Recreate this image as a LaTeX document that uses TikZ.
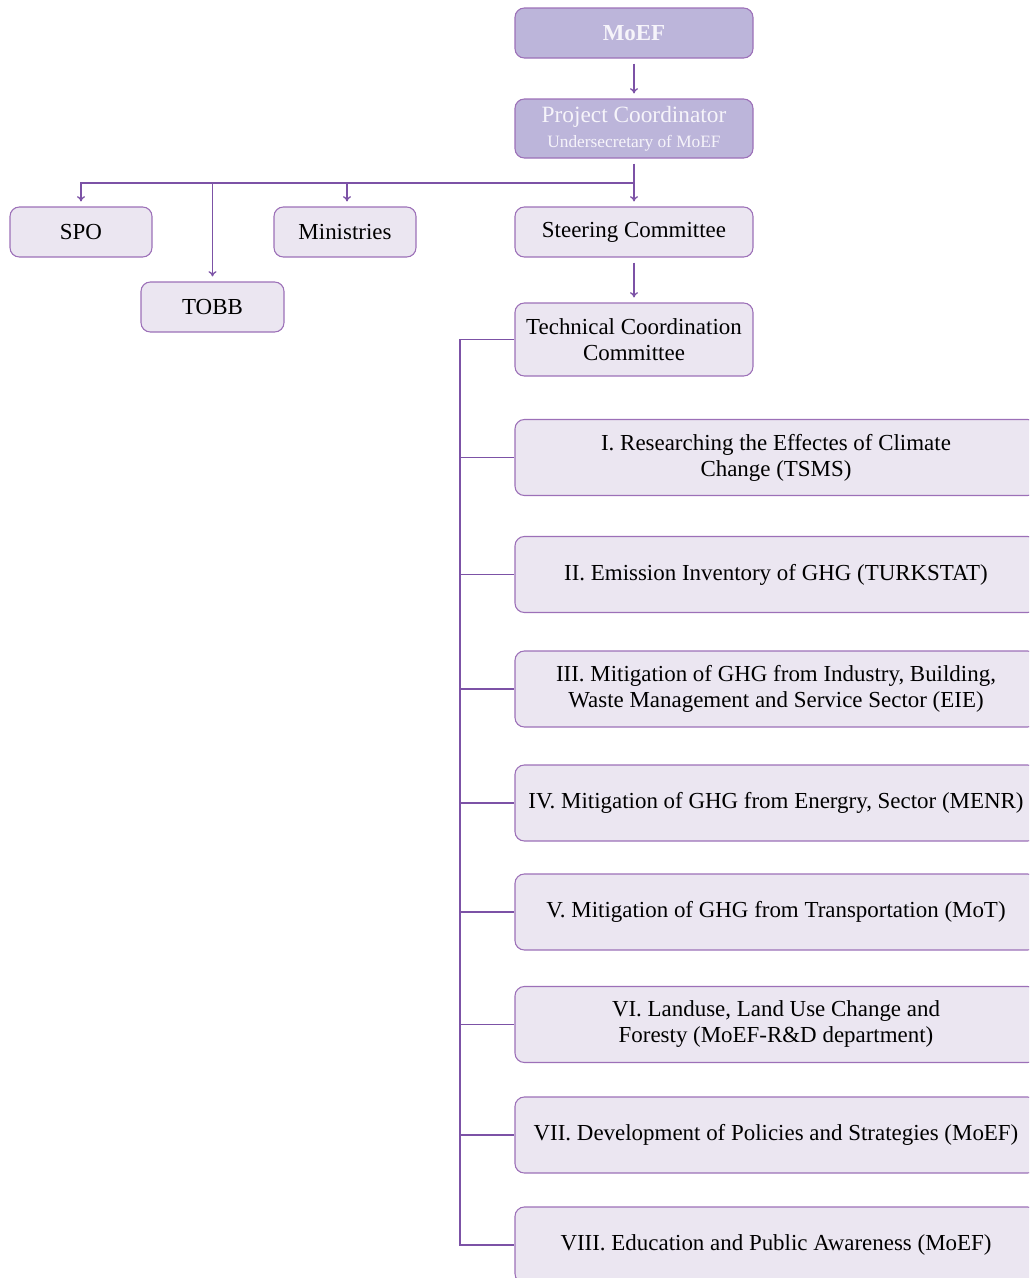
\documentclass[tikz,border=0pt]{standalone}
\usepackage{fontspec}
\setmainfont{Liberation Serif}
\usetikzlibrary{arrows.meta}
\definecolor{boxfill}{HTML}{EBE6F1}
\definecolor{boxline}{HTML}{9C70B8}
\definecolor{topfill}{HTML}{BCB5DA}
\definecolor{conn}{HTML}{7C52A6}
\definecolor{toptext}{HTML}{F6F4FA}
\begin{document}
\begin{tikzpicture}[x=0.75pt,y=-0.75pt,
  base/.style={draw=boxline, line width=0.8pt, rounded corners=7pt, inner sep=0pt,
    align=center, font=\fontsize{17.2}{19.5}\selectfont},
  wh/.style 2 args={minimum width=#1*0.75pt, minimum height=#2*0.75pt},
  lightbox/.style={base, fill=boxfill, text=black},
  topbox/.style={base, fill=topfill, text=toptext},
  wire/.style={draw=conn, line width=1pt},
  arr/.style={wire, -{To[length=4pt,width=6pt]}, shorten >=3.75pt},
  gap/.style={shorten <=3.75pt}
]
\useasboundingbox (0,0) rectangle (1029,1278);
\clip (0,0) rectangle (1029,1278);

\node[topbox, wh={238}{50}] (moef) at (634,33) {\bfseries MoEF};
\node[topbox, wh={238}{59}] (pc) at (634,128.5)
  {\fontsize{17.5}{18}\selectfont Project Coordinator\\[-1pt]\fontsize{13}{14}\selectfont Undersecretary of MoEF};
\node[lightbox, wh={142}{50}] (spo) at (81,232) {SPO};
\node[lightbox, wh={143}{50}] (tobb) at (212.5,307) {TOBB};
\node[lightbox, wh={142}{50}] (min) at (345,232) {Ministries};
\node[lightbox, wh={238}{50}] (steer) at (634,232) {Steering Committee};
\node[lightbox, wh={238}{73}] (tcc) at (634,339.5) {Technical Coordination\\Committee};

\node[lightbox, wh={522}{76}] (s1) at (776,457.5) {I. Researching the Effectes of Climate\\Change (TSMS)};
\node[lightbox, wh={522}{76}] (s2) at (776,574.5) {II. Emission Inventory of GHG (TURKSTAT)};
\node[lightbox, wh={522}{76}] (s3) at (776,689) {III. Mitigation of GHG from Industry, Building,\\Waste Management and Service Sector (EIE)};
\node[lightbox, wh={522}{76}] (s4) at (776,803) {IV. Mitigation of GHG from Energry, Sector (MENR)};
\node[lightbox, wh={522}{76}] (s5) at (776,912) {V. Mitigation of GHG from Transportation (MoT)};
\node[lightbox, wh={522}{76}] (s6) at (776,1024.5) {VI. Landuse, Land Use Change and\\Foresty (MoEF-R\&D department)};
\node[lightbox, wh={522}{76}] (s7) at (776,1135) {VII. Development of Policies and Strategies (MoEF)};
\node[lightbox, wh={522}{76}] (s8) at (776,1245) {VIII. Education and Public Awareness (MoEF)};

\coordinate (hub) at (634,183);
\coordinate (trunk) at (460,339.5);

\draw[arr, gap] (moef.south) -- (pc.north);
\draw[wire, gap] (pc.south) -- (hub);
\draw[arr] (hub) -| (spo.north);
\draw[arr] (hub) -| (tobb.north);
\draw[arr] (hub) -| ([xshift=1.5pt]min.north);
\draw[arr] (hub) -- (steer.north);
\draw[arr, gap] (steer.south) -- (tcc.north);

\draw[wire] (tcc.west) -- (trunk) |- (s8.west);
\foreach \i in {1,...,7} { \draw[wire] (trunk |- s\i.west) -- (s\i.west); }
\end{tikzpicture}
\end{document}
